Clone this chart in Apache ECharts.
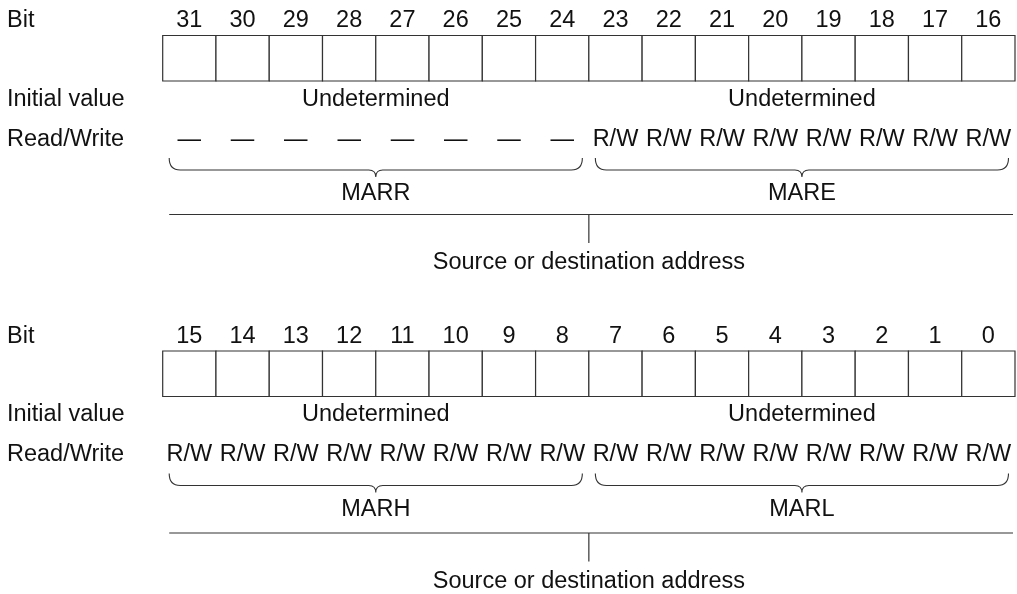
<!DOCTYPE html>
<html>
<head>
<meta charset="utf-8">
<script src="https://cdn.jsdelivr.net/npm/echarts@6/dist/echarts.min.js"></script>
<style>
html,body{margin:0;padding:0;background:#fff;}
#chart{width:1017px;height:594px;}
</style>
</head>
<body>
<div id="chart"></div>
<script>
// ---- data ----
const rowLabels = ['Bit', 'Initial value', 'Read/Write'];
const bitsHigh = [31, 30, 29, 28, 27, 26, 25, 24, 23, 22, 21, 20, 19, 18, 17, 16];
const bitsLow = [15, 14, 13, 12, 11, 10, 9, 8, 7, 6, 5, 4, 3, 2, 1, 0];
const rwHigh = ['—', '—', '—', '—', '—', '—', '—', '—', 'R/W', 'R/W', 'R/W', 'R/W', 'R/W', 'R/W', 'R/W', 'R/W'];
const rwLow = ['R/W', 'R/W', 'R/W', 'R/W', 'R/W', 'R/W', 'R/W', 'R/W', 'R/W', 'R/W', 'R/W', 'R/W', 'R/W', 'R/W', 'R/W', 'R/W'];
const fieldsHigh = ['MARR', 'MARE'];
const fieldsLow = ['MARH', 'MARL'];
const fieldBitsHigh = [[31, 24], [23, 16]];
const fieldBitsLow = [[15, 8], [7, 0]];
const initHigh = ['Undetermined', 'Undetermined'];
const initLow = ['Undetermined', 'Undetermined'];
const combinedName = 'Source or destination address';

// ---- layout (block-local pixel rows on the y scale) ----
const FONT = '23.5px "Liberation Sans", Arial, sans-serif';
const TXT = '#111';
const LINE = '#333';
const H = 272;
const L = {
  bitY: 21, boxTop: 35.5, boxBottom: 81, initY: 99.5, rwY: 139.5,
  braceTop: 158, braceMid: 170, braceTip: 177, fieldY: 194,
  lineY: 214.5, stemBottom: 243, sourceY: 263
};
const blocks = [
  { top: 0, bits: bitsHigh, rw: rwHigh, fields: fieldsHigh, fieldBits: fieldBitsHigh, init: initHigh, shift: 0 },
  { top: 315.5, bits: bitsLow, rw: rwLow, fields: fieldsLow, fieldBits: fieldBitsLow, init: initLow, shift: 3 }
];

const grids = [], xAxes = [], yAxes = [], series = [], graphics = [];

function txt(text, x, y, align) {
  return { type: 'text', style: { text: text, x: x, y: y, align: align || 'center', verticalAlign: 'middle', font: FONT, fill: TXT } };
}

blocks.forEach(function (b, gi) {
  const hi = b.bits[0], lo = b.bits[b.bits.length - 1];
  grids.push({ left: 162.7, right: 2, top: b.top, height: H });
  xAxes.push({ type: 'value', gridIndex: gi, min: lo - 0.5, max: hi + 0.5, inverse: true, show: false });
  yAxes.push({ type: 'value', gridIndex: gi, min: 0, max: H, inverse: true, show: false });

  // cells, bit numbers, read/write
  series.push({
    type: 'custom', xAxisIndex: gi, yAxisIndex: gi, silent: true,
    data: b.bits.map(function (v) { return [v]; }),
    renderItem: function (params, api) {
      const bit = api.value(0);
      const p0 = api.coord([bit + 0.5, L.boxTop]);
      const p1 = api.coord([bit - 0.5, L.boxBottom]);
      const cx = (p0[0] + p1[0]) / 2;
      return {
        type: 'group', children: [
          { type: 'rect', shape: { x: p0[0], y: p0[1], width: p1[0] - p0[0], height: p1[1] - p0[1] },
            style: { fill: '#fff', stroke: LINE, lineWidth: 1.2 } },
          txt(String(bit), cx, api.coord([bit, L.bitY])[1]),
          txt(b.rw[params.dataIndex], cx, api.coord([bit, L.rwY])[1])
        ]
      };
    }
  });

  // fields: initial value, brace, name
  series.push({
    type: 'custom', xAxisIndex: gi, yAxisIndex: gi, silent: true,
    data: b.fieldBits,
    renderItem: function (params, api) {
      const h = api.value(0), l = api.value(1);
      const a = api.coord([h + 0.5, L.braceTop]);
      const c = api.coord([l - 0.5, L.braceMid]);
      const x0 = a[0] + 6.5, x1 = c[0] - 6.5, cx = (a[0] + c[0]) / 2;
      const yT = a[1], yM = c[1], yP = api.coord([h, L.braceTip])[1];
      const r = 11, r2 = 7;
      const path = 'M' + x0 + ',' + yT + ' Q' + x0 + ',' + yM + ' ' + (x0 + r) + ',' + yM +
        ' L' + (cx - r2) + ',' + yM + ' Q' + cx + ',' + yM + ' ' + cx + ',' + yP +
        ' Q' + cx + ',' + yM + ' ' + (cx + r2) + ',' + yM +
        ' L' + (x1 - r) + ',' + yM + ' Q' + x1 + ',' + yM + ' ' + x1 + ',' + yT;
      return {
        type: 'group', children: [
          txt(b.init[params.dataIndex], cx, api.coord([h, L.initY])[1]),
          { type: 'path', shape: { pathData: path }, style: { fill: null, stroke: LINE, lineWidth: 1.1 } },
          txt(b.fields[params.dataIndex], cx, api.coord([h, L.fieldY])[1])
        ]
      };
    }
  });

  // combined register line
  series.push({
    type: 'custom', xAxisIndex: gi, yAxisIndex: gi, silent: true,
    data: [[hi, lo]],
    renderItem: function (params, api) {
      const h = api.value(0), l = api.value(1);
      const s = b.shift;
      const a = api.coord([h + 0.5, L.lineY + s]);
      const c = api.coord([l - 0.5, L.stemBottom + s]);
      const mid = (a[0] + c[0]) / 2;
      return {
        type: 'group', children: [
          { type: 'line', shape: { x1: a[0] + 6.5, y1: a[1], x2: c[0] - 2, y2: a[1] }, style: { stroke: LINE, lineWidth: 1.2 } },
          { type: 'line', shape: { x1: mid, y1: a[1], x2: mid, y2: c[1] }, style: { stroke: LINE, lineWidth: 1.2 } },
          txt(combinedName, mid, api.coord([h, L.sourceY + s])[1])
        ]
      };
    }
  });

  [L.bitY, L.initY, L.rwY].forEach(function (y, i) {
    graphics.push({ type: 'text', x: 7, y: b.top + y, style: { text: rowLabels[i], font: FONT, fill: TXT, verticalAlign: 'middle' } });
  });
});

const chart = echarts.init(document.getElementById('chart'));
chart.setOption({
  animation: false,
  backgroundColor: '#fff',
  grid: grids, xAxis: xAxes, yAxis: yAxes,
  series: series,
  graphic: graphics
});
</script>
</body>
</html>
